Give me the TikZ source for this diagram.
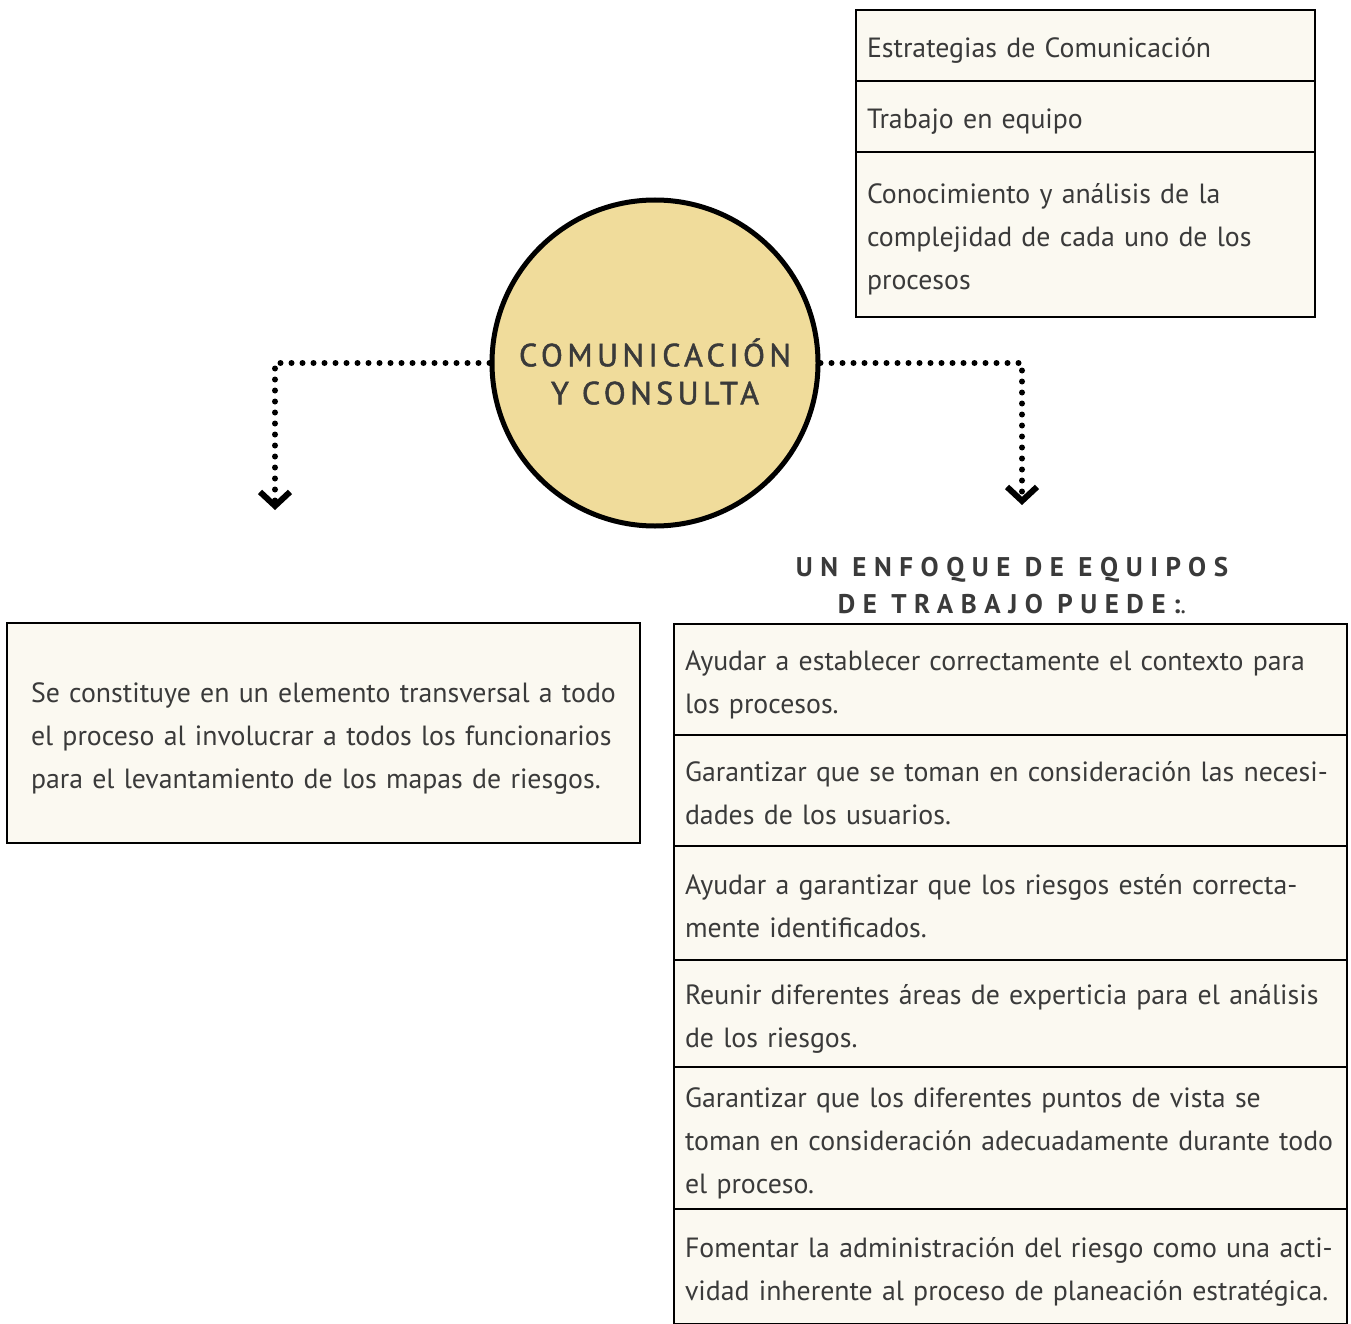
\documentclass[tikz,border=0pt]{standalone}
\usepackage{fontspec}
\setmainfont{PT Sans}
\newfontfamily\spacedfont[LetterSpace=28]{PT Sans}
\newfontfamily\circfont[LetterSpace=14,FakeBold=1.5]{PT Sans}
\usetikzlibrary{arrows.meta,positioning}
\definecolor{gold}{HTML}{F0DC9B}
\definecolor{cream}{HTML}{FBF9F1}
\definecolor{ink}{HTML}{3A3A3A}

\begin{document}
\begin{tikzpicture}[x=1pt,y=-1pt,
  box/.style={draw,line width=2.5pt,fill=cream,text=ink,align=left,inner xsep=11pt,
    outer sep=0pt,font=\fontsize{27.8}{43}\selectfont,
    execute at begin node={\rule{0pt}{35pt}},
    execute at end node={\rule[-10pt]{0pt}{10pt}}},
  item/.style={box,text width=651pt,anchor=north},
  topitem/.style={box,text width=437pt,anchor=north},
  dotline/.style={line width=6pt,line cap=round,dash pattern=on 0pt off 11pt,
    -{Straight Barb[length=14pt,width=30pt,line width'=6pt]}}]
\useasboundingbox (0,0) rectangle (1351,1324);

\node[circle,draw,line width=5pt,fill=gold,minimum size=326pt,text=ink,align=center,
  font=\circfont\fontsize{32}{38}\selectfont] (circ) at (655,363)
  {\rule{0pt}{45pt}COMUNICACIÓN\\Y CONSULTA};

\node[topitem,minimum height=71pt] (t1) at (1085.5,10) {Estrategias de Comunicación};
\node[topitem,minimum height=71pt,below=0pt of t1] (t2) {Trabajo en equipo};
\node[topitem,minimum height=165pt,below=0pt of t2] (t3)
  {Conocimiento y análisis de la\\complejidad de cada uno de los\\procesos};

\coordinate (lend) at (275,510);
\coordinate (rend) at (1022,505);
\draw[dotline] (circ.west) -| (lend);
\draw[dotline] (circ.east) -| (rend);

\node[text=ink,align=center,font=\spacedfont\bfseries\fontsize{27}{37}\selectfont]
  (head) at (1012,586) {UN ENFOQUE DE EQUIPOS\\DE TRABAJO PUEDE:{\mdseries.}};

\node[box,text width=585pt,inner xsep=24pt,minimum height=220pt,anchor=north west]
  (left) at (7,623)
  {Se constituye en un elemento transversal a todo\\el proceso al involucrar a todos los funcionarios\\para el levantamiento de los mapas de riesgos.};

\node[item,minimum height=111pt] (r1) at (1010.5,624)
  {Ayudar a establecer correctamente el contexto para\\los procesos.};
\node[item,minimum height=111pt,below=0pt of r1] (r2)
  {Garantizar que se toman en consideración las necesi-\\dades de los usuarios.};
\node[item,minimum height=114pt,below=0pt of r2] (r3)
  {Ayudar a garantizar que los riesgos estén correcta-\\mente identificados.};
\node[item,minimum height=107pt,below=0pt of r3] (r4)
  {Reunir diferentes áreas de experticia para el análisis\\de los riesgos.};
\node[item,minimum height=142pt,below=0pt of r4] (r5)
  {Garantizar que los diferentes puntos de vista se\\toman en consideración adecuadamente durante todo\\el proceso.};
\node[item,minimum height=115pt,below=0pt of r5] (r6)
  {Fomentar la administración del riesgo como una acti-\\vidad inherente al proceso de planeación estratégica.};
\end{tikzpicture}
\end{document}
